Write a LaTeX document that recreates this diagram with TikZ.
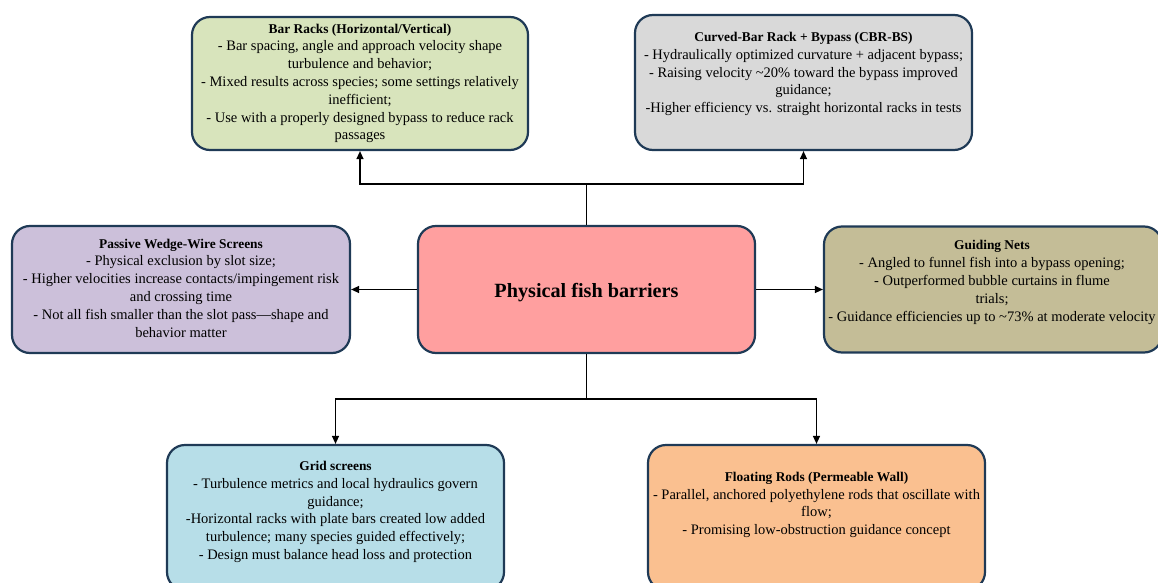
\documentclass[tikz,border=0pt]{standalone}
\usepackage{fontspec}
\setmainfont{Liberation Serif}
\usetikzlibrary{arrows.meta}

\definecolor{edge}{HTML}{1F3A56}
\definecolor{barfill}{HTML}{D8E4BC}
\definecolor{cbrfill}{HTML}{D9D9D9}
\definecolor{wedgefill}{HTML}{CCC0DA}
\definecolor{hubfill}{HTML}{FF9F9F}
\definecolor{netfill}{HTML}{C4BD97}
\definecolor{gridfill}{HTML}{B7DEE8}
\definecolor{rodfill}{HTML}{FAC090}

\newcommand{\cardtitle}[1]{{\fontsize{13.4}{17.8}\selectfont\bfseries #1}}

\begin{document}
\begin{tikzpicture}[x=1pt,y=-1pt,
	card/.style={draw=edge, line width=2.2pt, rounded corners=18pt, inner sep=0pt},
	blurb/.style={align=center, inner sep=0pt, font=\fontsize{14.5}{17.8}\selectfont},
	link/.style={-{Triangle[length=8pt,width=7pt]}, line width=1.3pt}]
	\useasboundingbox (0,0) rectangle (1158,583);
	% boxes
	\node[card, fill=barfill, minimum width=336pt, minimum height=133pt] (bar) at (360,83.5) {};
	\node[card, fill=cbrfill, minimum width=337pt, minimum height=135pt] (cbr) at (803.5,82.5) {};
	\node[card, fill=wedgefill, minimum width=338pt, minimum height=127pt] (wedge) at (181,289.5) {};
	\node[card, fill=hubfill, minimum width=337pt, minimum height=127pt] (hub) at (586.5,289.5) {};
	\node[card, fill=netfill, minimum width=338pt, minimum height=126pt] (nets) at (993,289.5) {};
	\node[card, fill=gridfill, minimum width=337pt, minimum height=145pt] (grid) at (335.5,517.5) {};
	\node[card, fill=rodfill, minimum width=337pt, minimum height=145pt] (rods) at (816.5,517.5) {};
	% texts
	\node[font=\fontsize{20.2}{24}\selectfont\bfseries, inner sep=0pt] (hubtext) at ([yshift=-3pt]hub.center) {Physical fish barriers};
	\node[blurb] (bartext) at (bar.center) {\cardtitle{Bar Racks (Horizontal/Vertical)}\\
		- Bar spacing, angle and approach velocity shape\\ turbulence and behavior;\\
		- Mixed results across species; some settings relatively\\ inefficient;\\
		- Use with a properly designed bypass to reduce rack\\ passages};
	\node[blurb] (cbrtext) at ([yshift=8.5pt]cbr.center) {\cardtitle{Curved-Bar Rack + Bypass (CBR-BS)}\\
		- Hydraulically optimized curvature + adjacent bypass;\\
		- Raising velocity \textasciitilde20\% toward the bypass improved\\ guidance;\\
		-Higher efficiency vs. straight horizontal racks in tests};
	\node[blurb] (wedgetext) at ([yshift=1.5pt]wedge.center) {\cardtitle{Passive Wedge-Wire Screens}\\
		- Physical exclusion by slot size;\\
		- Higher velocities increase contacts/impingement risk\\ and crossing time\\
		- Not all fish smaller than the slot pass---shape and\\ behavior matter};
	\node[blurb] (netstext) at (992,282.5) {\cardtitle{Guiding Nets}\\
		- Angled to funnel fish into a bypass opening;\\
		- Outperformed bubble curtains in flume\\ trials;\\
		- Guidance efficiencies up to \textasciitilde73\% at moderate velocity};
	\node[blurb] (gridtext) at (335.5,512) {\cardtitle{Grid screens}\\
		- Turbulence metrics and local hydraulics govern\\ guidance;\\
		-Horizontal racks with plate bars created low added\\ turbulence; many species guided effectively;\\
		- Design must balance head loss and protection};
	\node[blurb] (rodstext) at (816.5,505) {\cardtitle{Floating Rods (Permeable Wall)}\\
		- Parallel, anchored polyethylene rods that oscillate with\\ flow;\\
		- Promising low-obstruction guidance concept};
	% connectors
	\draw[link] (hub.north) -- ++(0,-41) -| (bar.south);
	\draw[link] (hub.north) -- ++(0,-41) -| (cbr.south);
	\draw[link] (hub.south) -- ++(0,45) -| (grid.north);
	\draw[link] (hub.south) -- ++(0,45) -| (rods.north);
	\draw[link] (hub.west) -- (wedge.east);
	\draw[link] (hub.east) -- (nets.west);
\end{tikzpicture}
\end{document}
